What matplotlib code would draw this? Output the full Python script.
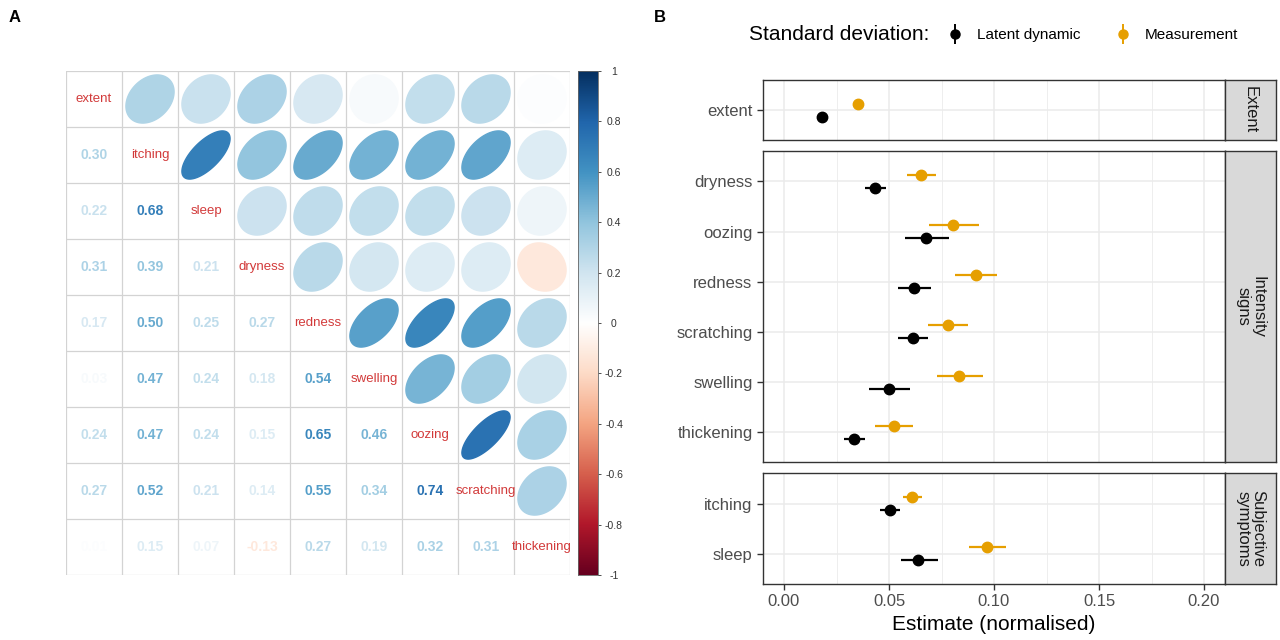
import numpy as np
import matplotlib
matplotlib.use('Agg')
import matplotlib.pyplot as plt
from matplotlib.colors import LinearSegmentedColormap
from matplotlib.lines import Line2D
from matplotlib.legend_handler import HandlerTuple

plt.rcParams['font.family'] = ['Liberation Sans', 'DejaVu Sans']

# -- Panel A data: correlation matrix (lower triangle, rows in variable order)
variables = ['extent', 'itching', 'sleep', 'dryness', 'redness',
             'swelling', 'oozing', 'scratching', 'thickening']
lower_tri = [
    [],
    [0.30],
    [0.22, 0.68],
    [0.31, 0.39, 0.21],
    [0.17, 0.50, 0.25, 0.27],
    [0.03, 0.47, 0.24, 0.18, 0.54],
    [0.24, 0.47, 0.24, 0.15, 0.65, 0.46],
    [0.27, 0.52, 0.21, 0.14, 0.55, 0.34, 0.74],
    [0.01, 0.15, 0.07, -0.13, 0.27, 0.19, 0.32, 0.31],
]
cbar_ticks = [-1, -0.8, -0.6, -0.4, -0.2, 0, 0.2, 0.4, 0.6, 0.8, 1]

# -- Panel B data: standard deviation estimates
items = ['extent', 'dryness', 'oozing', 'redness', 'scratching', 'swelling',
         'thickening', 'itching', 'sleep']
item_group = [0, 1, 1, 1, 1, 1, 1, 2, 2]
group_names = ['Extent', 'Intensity\nsigns', 'Subjective\nsymptoms']
latent_est = [0.0180, 0.0433, 0.0675, 0.0620, 0.0614, 0.0500, 0.0335, 0.0504, 0.0637]
latent_lo = [0.0168, 0.0384, 0.0576, 0.0541, 0.0545, 0.0406, 0.0286, 0.0459, 0.0555]
latent_hi = [0.0192, 0.0484, 0.0784, 0.0702, 0.0688, 0.0598, 0.0386, 0.0551, 0.0731]
meas_est = [0.0353, 0.0653, 0.0804, 0.0912, 0.0780, 0.0835, 0.0522, 0.0610, 0.0965]
meas_lo = [0.0338, 0.0588, 0.0690, 0.0814, 0.0686, 0.0729, 0.0435, 0.0569, 0.0882]
meas_hi = [0.0368, 0.0722, 0.0930, 0.1014, 0.0878, 0.0947, 0.0612, 0.0657, 0.1055]
x_ticks = [0.00, 0.05, 0.10, 0.15, 0.20]

orange = '#E69F00'
W, H = 1280, 640

def px_box(x0, y0, x1, y1):
    return [x0 / W, 1 - y1 / H, (x1 - x0) / W, (y1 - y0) / H]

fig = plt.figure(figsize=(12.8, 6.4), dpi=100)

# ---------------- Panel A: corrplot ----------------
n = len(variables)
corr = np.eye(n)
for i, row in enumerate(lower_tri):
    for j, v in enumerate(row):
        corr[i, j] = v
        corr[j, i] = v

cmap = LinearSegmentedColormap.from_list(
    'corrRdBu', ['#67001F', '#B2182B', '#D6604D', '#F4A582', '#FDDBC7', '#FFFFFF',
                 '#D1E5F0', '#92C5DE', '#4393C3', '#2166AC', '#053061'], N=200)

def col(v):
    return cmap((v + 1) / 2)

axA = fig.add_axes(px_box(66, 71, 570, 575))
axA.set_xlim(0, n)
axA.set_ylim(n, 0)
axA.axis('off')
for k in range(n + 1):
    axA.plot([k, k], [0, n], color='#D3D3D3', lw=0.9, zorder=1)
    axA.plot([0, n], [k, k], color='#D3D3D3', lw=0.9, zorder=1)

t = np.linspace(0, 2 * np.pi, 99)
for i in range(n):
    for j in range(n):
        r = corr[i, j]
        if i == j:
            axA.text(j + 0.5, i + 0.5, variables[i], color='#D23A3A', fontsize=9.5,
                     ha='center', va='center')
        elif i > j:
            axA.text(j + 0.5, i + 0.5, f'{r:.2f}', color=col(r), fontsize=10,
                     fontweight='bold', ha='center', va='center')
        else:
            a = np.arccos(r)
            ex = 0.86 * np.cos(t + a / 2) / 2
            ey = 0.86 * np.cos(t - a / 2) / 2
            axA.fill(j + 0.5 + ex, i + 0.5 - ey, color=col(r), zorder=2)

axC = fig.add_axes(px_box(578, 71, 598, 575))
grad = np.linspace(-1, 1, 200).reshape(-1, 1)
axC.imshow(grad, cmap=cmap, vmin=-1, vmax=1, origin='lower', aspect='auto',
           extent=[0, 1, -1, 1])
axC.set_xticks([])
axC.yaxis.tick_right()
axC.set_yticks(cbar_ticks)
axC.set_yticklabels(['%g' % v for v in cbar_ticks])
axC.tick_params(axis='y', labelsize=7.5, colors='#333333', length=2.5, width=0.6, pad=9)
for lab in axC.get_yticklabels():
    lab.set_horizontalalignment('center')
for s in axC.spines.values():
    s.set_color('#666666')
    s.set_linewidth(0.6)

fig.text(15 / W, 1 - 18 / H, 'A', fontsize=12, fontweight='bold', ha='center', va='center')
fig.text(660 / W, 1 - 18 / H, 'B', fontsize=12, fontweight='bold', ha='center', va='center')

# ---------------- Panel B: faceted point ranges ----------------
unit = 50.2
top = 80
gap = 11
dodge = 0.13
latent_est, latent_lo, latent_hi = map(np.array, (latent_est, latent_lo, latent_hi))
meas_est, meas_lo, meas_hi = map(np.array, (meas_est, meas_lo, meas_hi))
item_group = np.array(item_group)

for g, gname in enumerate(group_names):
    idx = np.where(item_group == g)[0]
    m = len(idx)
    h = (m + 0.2) * unit
    ax = fig.add_axes(px_box(763, top, 1225, top + h))
    strip = fig.add_axes(px_box(1225, top, 1276, top + h))
    top = top + h + gap

    ax.set_xlim(-0.01, 0.21)
    ax.set_ylim(m - 1 + 0.6, -0.6)
    ax.set_xticks(x_ticks)
    ax.set_xticks(np.arange(0.025, 0.2, 0.05), minor=True)
    ax.set_yticks(range(m))
    ax.set_yticklabels([items[k] for k in idx])
    ax.grid(True, which='major', color='#EBEBEB', lw=1.1)
    ax.grid(True, which='minor', axis='x', color='#EBEBEB', lw=0.6)
    ax.set_axisbelow(True)
    ax.tick_params(axis='y', labelsize=12, labelcolor='#4D4D4D', color='#333333',
                   length=4, width=1)
    ax.tick_params(axis='x', which='minor', length=0)
    if g == len(group_names) - 1:
        ax.set_xticklabels([f'{v:.2f}' for v in x_ticks])
        ax.tick_params(axis='x', labelsize=12, labelcolor='#4D4D4D', color='#333333',
                       length=4, width=1)
        ax.set_xlabel('Estimate (normalised)', fontsize=15, labelpad=4)
    else:
        ax.tick_params(axis='x', labelbottom=False, length=0)
    for s in ax.spines.values():
        s.set_color('#333333')
        s.set_linewidth(1.0)

    ypos = np.arange(m)
    ax.hlines(ypos - dodge, meas_lo[idx], meas_hi[idx], color=orange, lw=1.6)
    ax.plot(meas_est[idx], ypos - dodge, 'o', color=orange, ms=7.5)
    ax.hlines(ypos + dodge, latent_lo[idx], latent_hi[idx], color='black', lw=1.6)
    ax.plot(latent_est[idx], ypos + dodge, 'o', color='black', ms=7.5)

    strip.set_facecolor('#D9D9D9')
    strip.set_xticks([])
    strip.set_yticks([])
    for s in strip.spines.values():
        s.set_color('#333333')
        s.set_linewidth(1.0)
    strip.text(0.5, 0.5, gname, rotation=270, ha='center', va='center',
               fontsize=12, color='#1A1A1A', linespacing=0.95,
               transform=strip.transAxes)

# legend on top
fig.text(749 / W, 1 - 35 / H, 'Standard deviation:', fontsize=15, ha='left', va='center')
handles = []
for c in ['black', orange]:
    handles.append((Line2D([], [], color=c, marker='|', ms=14, mew=1.4, ls='none'),
                    Line2D([], [], color=c, marker='o', ms=6.5, ls='none')))
fig.legend(handles, ['Latent dynamic', 'Measurement'], ncol=2, frameon=False,
           loc='center left', bbox_to_anchor=(947 / W, 1 - 35 / H), fontsize=11,
           handler_map={tuple: HandlerTuple(ndivide=1)}, handlelength=1.0,
           handletextpad=0.94, columnspacing=2.3, borderpad=0, borderaxespad=0)

fig.savefig('out.png', dpi=100)
